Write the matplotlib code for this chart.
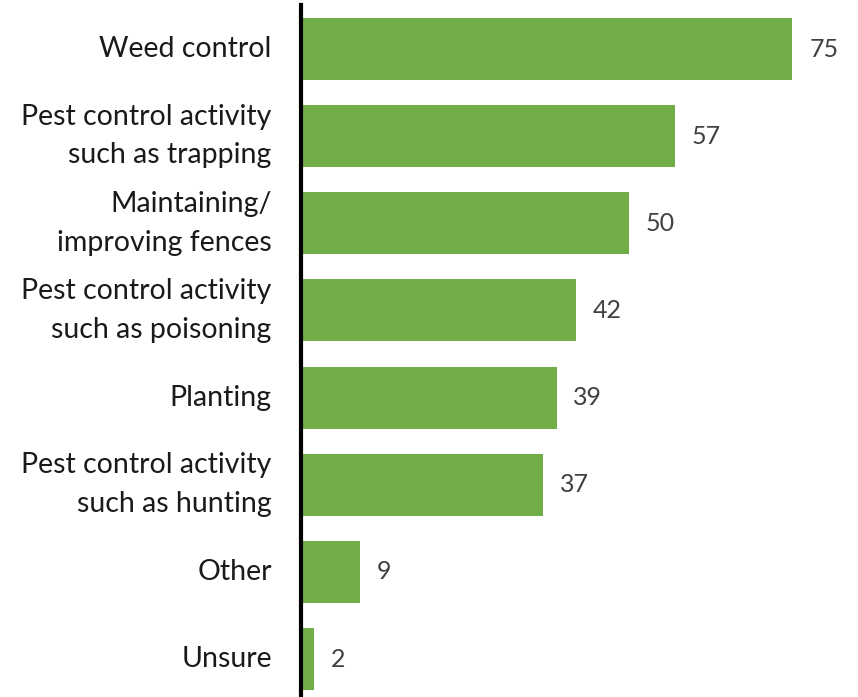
import matplotlib.pyplot as plt

# Activities and counts, top to bottom
activities = [
    "Weed control",
    "Pest control activity\nsuch as trapping",
    "Maintaining/\nimproving fences",
    "Pest control activity\nsuch as poisoning",
    "Planting",
    "Pest control activity\nsuch as hunting",
    "Other",
    "Unsure",
]
counts = [75, 57, 50, 42, 39, 37, 9, 2]

plt.rcParams["font.family"] = ["Lato", "DejaVu Sans"]

fig = plt.figure(figsize=(8.58, 6.97), dpi=100)
ax = fig.add_axes([301 / 858, 0.0, 557 / 858, 692 / 697])

positions = list(range(len(counts)))
bars = ax.barh(positions, counts, height=0.71, color="#70AD47")

ax.set_xlim(0, 85)
ax.set_ylim(7.436, -0.505)

ax.set_yticks(positions)
ax.set_yticklabels(activities, fontsize=20.5, color="#1a1a1a",
                   linespacing=1.6, ha="right", va="center")
ax.tick_params(axis="y", length=0, pad=21)
ax.set_xticks([])

for side in ["top", "right", "bottom"]:
    ax.spines[side].set_visible(False)
ax.spines["left"].set_linewidth(3)
ax.spines["left"].set_color("black")

for bar, val in zip(bars, counts):
    ax.annotate(str(val), (bar.get_width(), bar.get_y() + bar.get_height() / 2),
                xytext=(12, 0), textcoords="offset points",
                va="center", ha="left", fontsize=18, color="#404040")

fig.savefig("out.png", dpi=100)
